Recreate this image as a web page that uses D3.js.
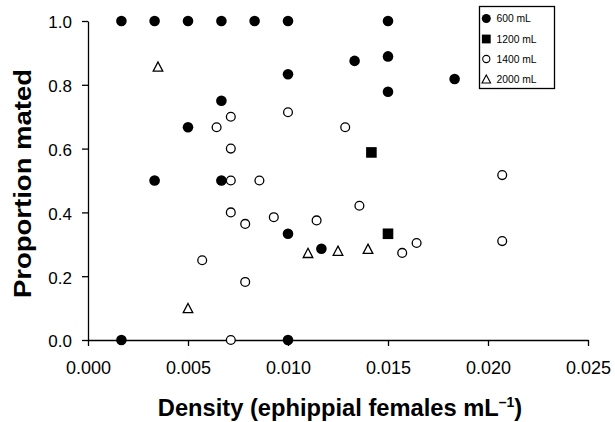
<!DOCTYPE html>
<html>
<head>
<meta charset="utf-8">
<script src="https://cdn.jsdelivr.net/npm/d3@7"></script>
<style>
  html, body { margin: 0; padding: 0; background: #fff; }
  svg { display: block; font-family: Arial, "Liberation Sans", sans-serif; }
</style>
</head>
<body>
<svg id="chart" width="615" height="422"></svg>
<script>
// ---- data (density in ephippial females per mL, proportion mated) ----
const seriesNames = ["600 mL", "1200 mL", "1400 mL", "2000 mL"];

const x600 = [0.00167, 0.00333, 0.005, 0.00667, 0.00833, 0.010, 0.015,
              0.00667, 0.005, 0.00333, 0.00667, 0.00167, 0.010, 0.010,
              0.01167, 0.010, 0.01333, 0.015, 0.015, 0.01833];
const y600 = [1.0, 1.0, 1.0, 1.0, 1.0, 1.0, 1.0,
              0.75, 0.667, 0.5, 0.5, 0.0, 0.0, 0.333,
              0.286, 0.833, 0.875, 0.889, 0.778, 0.818];

const x1200 = [0.01417, 0.015];
const y1200 = [0.588, 0.333];

const x1400 = [0.00714, 0.00643, 0.00714, 0.00714, 0.00857, 0.00714, 0.00786,
               0.00929, 0.00571, 0.00786, 0.00714, 0.010, 0.01286, 0.02071,
               0.01143, 0.01357, 0.01571, 0.01643, 0.02071];
const y1400 = [0.70, 0.667, 0.60, 0.50, 0.50, 0.40, 0.364,
               0.385, 0.25, 0.182, 0.0, 0.714, 0.667, 0.517,
               0.375, 0.421, 0.273, 0.304, 0.310];

const x2000 = [0.0035, 0.005, 0.011, 0.0125, 0.014];
const y2000 = [0.857, 0.10, 0.273, 0.28, 0.286];

const xTicks = [0, 0.005, 0.010, 0.015, 0.020, 0.025];
const yTicks = [0, 0.2, 0.4, 0.6, 0.8, 1.0];

// ---- layout ----
const svg = d3.select("#chart");
const x = d3.scaleLinear().domain([0, 0.025]).range([88, 588]);
const y = d3.scaleLinear().domain([0, 1]).range([340, 21]);

// axes
const xAxis = svg.append("g")
  .attr("transform", `translate(0,${y(0)})`)
  .call(d3.axisBottom(x).tickValues(xTicks).tickFormat(d3.format(".3f"))
        .tickSizeInner(6).tickSizeOuter(0).tickPadding(15));
const yAxis = svg.append("g")
  .attr("transform", `translate(${x(0)},0)`)
  .call(d3.axisLeft(y).tickValues(yTicks).tickFormat(d3.format(".1f"))
        .tickSizeInner(6).tickSizeOuter(0).tickPadding(10));

[xAxis, yAxis].forEach(g => {
  g.selectAll("path.domain").attr("stroke", "#000").attr("stroke-width", 1.3);
  g.selectAll(".tick line").attr("stroke", "#000").attr("stroke-width", 1.3);
  g.selectAll(".tick text").attr("fill", "#000")
    .style("font-family", 'Arial, "Liberation Sans", sans-serif');
});
xAxis.selectAll(".tick text").style("font-size", "18px");
yAxis.selectAll(".tick text").style("font-size", "17px").attr("dy", "0.40em");

// marker drawers
function drawCircles(xs, ys, filled) {
  svg.append("g").selectAll("circle")
    .data(xs.map((d, i) => [d, ys[i]]))
    .join("circle")
    .attr("cx", d => x(d[0]))
    .attr("cy", d => y(d[1]))
    .attr("r", filled ? 5.3 : 4.4)
    .attr("fill", filled ? "#000" : "#fff")
    .attr("stroke", "#000")
    .attr("stroke-width", filled ? 0 : 1.3);
}
function drawSquares(xs, ys) {
  const s = 10.6;
  svg.append("g").selectAll("rect")
    .data(xs.map((d, i) => [d, ys[i]]))
    .join("rect")
    .attr("x", d => x(d[0]) - s / 2)
    .attr("y", d => y(d[1]) - s / 2)
    .attr("width", s).attr("height", s)
    .attr("fill", "#000");
}
function triPath(w, h) {
  return `M0,${-h / 2}L${w / 2},${h / 2}L${-w / 2},${h / 2}Z`;
}
function drawTriangles(xs, ys) {
  svg.append("g").selectAll("path")
    .data(xs.map((d, i) => [d, ys[i]]))
    .join("path")
    .attr("transform", d => `translate(${x(d[0])},${y(d[1])})`)
    .attr("d", triPath(9.6, 9.2))
    .attr("fill", "#fff")
    .attr("stroke", "#000")
    .attr("stroke-width", 1.3)
    .attr("stroke-linejoin", "miter");
}

drawCircles(x600, y600, true);
drawSquares(x1200, y1200);
drawCircles(x1400, y1400, false);
drawTriangles(x2000, y2000);

// axis titles
svg.append("text")
  .attr("x", 340).attr("y", 416)
  .attr("text-anchor", "middle")
  .style("font-size", "23.7px").style("font-weight", "bold")
  .call(t => {
    t.append("tspan").text("Density (ephippial females mL");
    t.append("tspan").text("\u20131").style("font-size", "14px").attr("dy", "-9");
    t.append("tspan").text(")").attr("dy", "9");
  });

svg.append("text")
  .attr("transform", "translate(30.5,183.5) rotate(-90)")
  .attr("text-anchor", "middle")
  .attr("textLength", 229).attr("lengthAdjust", "spacingAndGlyphs")
  .style("font-size", "24px").style("font-weight", "bold")
  .text("Proportion mated");

// legend
const legend = svg.append("g");
legend.append("rect")
  .attr("x", 479.5).attr("y", 6.5).attr("width", 75).attr("height", 82)
  .attr("fill", "#fff").attr("stroke", "#000").attr("stroke-width", 1.3);
const rowY = [18.5, 39, 59, 79];
seriesNames.forEach((name, i) => {
  const cy = rowY[i], cx = 486.3;
  if (i === 0) legend.append("circle").attr("cx", cx).attr("cy", cy).attr("r", 4.5).attr("fill", "#000");
  if (i === 1) legend.append("rect").attr("x", cx - 4.4).attr("y", cy - 4.4).attr("width", 8.8).attr("height", 8.8).attr("fill", "#000");
  if (i === 2) legend.append("circle").attr("cx", cx).attr("cy", cy).attr("r", 3.6).attr("fill", "#fff").attr("stroke", "#000").attr("stroke-width", 1.1);
  if (i === 3) legend.append("path").attr("transform", `translate(${cx},${cy})`).attr("d", triPath(8.6, 8)).attr("fill", "#fff").attr("stroke", "#000").attr("stroke-width", 1.1);
  legend.append("text")
    .attr("x", 496.5).attr("y", cy + 3.8)
    .style("font-size", "10.3px")
    .text(name);
});
</script>
</body>
</html>
